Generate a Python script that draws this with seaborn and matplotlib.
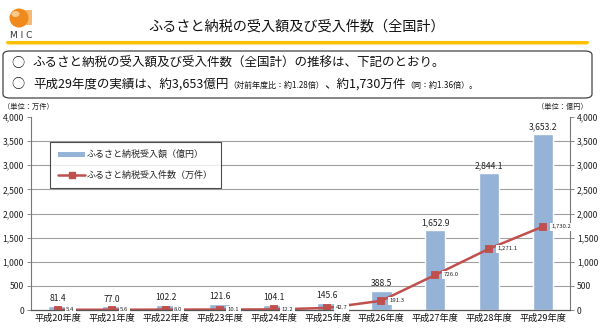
import matplotlib
matplotlib.use("Agg")
import matplotlib.pyplot as plt
from matplotlib.patches import FancyBboxPatch, Ellipse, Rectangle, Patch
from matplotlib.lines import Line2D
import seaborn as sns
import pandas as pd

categories = ["平成20年度", "平成21年度", "平成22年度", "平成23年度", "平成24年度",
              "平成25年度", "平成26年度", "平成27年度", "平成28年度", "平成29年度"]
amount_oku = [81.4, 77.0, 102.2, 121.6, 104.1, 145.6, 388.5, 1652.9, 2844.1, 3653.2]
count_man = [5.4, 5.6, 8.0, 10.1, 12.2, 42.7, 191.3, 726.0, 1271.1, 1730.2]
yticks = [0, 500, 1000, 1500, 2000, 2500, 3000, 3500, 4000]

sns.set_theme(style="white")
plt.rcParams['font.family'] = ['Noto Sans CJK JP', 'DejaVu Sans']

BAR = "#95B3D7"
LINE = "#C0504D"
W, H = 600, 329
fig = plt.figure(figsize=(6, 3.29), dpi=100)

def fx(x): return x / W
def fy(y): return 1 - y / H

df = pd.DataFrame({"cat": categories, "amount": amount_oku, "count": count_man})

ax = fig.add_axes([fx(31), fy(310), fx(570) - fx(31), fy(117) - fy(310)])
ax2 = ax.twinx()

# bars on right axis (億円)
sns.barplot(data=df, x="cat", y="amount", color=BAR, saturation=1, width=0.38, ax=ax2)
# line on left axis (万件)
sns.pointplot(data=df, x="cat", y="count", color=LINE, markers="s", linestyles="-",
              markersize=5, linewidth=1.8, ax=ax)

ax.set_zorder(ax2.get_zorder() + 1)
ax.patch.set_visible(False)

for a in (ax, ax2):
    a.set_ylim(0, 4000)
    a.set_yticks(yticks)
    a.set_yticklabels([f"{v:,}" for v in yticks], fontsize=6.2, color="#222222")
    a.set_xlim(-0.5, len(categories) - 0.5)
    a.set_xlabel("")
    a.set_ylabel("")
    for s in a.spines.values():
        s.set_visible(False)
    a.tick_params(axis="y", length=3, width=0.6, color="#777777", pad=2)

ax.spines["left"].set_visible(True)
ax.spines["left"].set_color("#777777")
ax.spines["left"].set_linewidth(0.8)
ax.spines["bottom"].set_visible(True)
ax.spines["bottom"].set_color("#555555")
ax.spines["bottom"].set_linewidth(0.9)
ax2.spines["right"].set_visible(True)
ax2.spines["right"].set_color("#777777")
ax2.spines["right"].set_linewidth(0.8)

ax2.yaxis.grid(True, color="#A0A0A0", linewidth=0.8)
gl = ax2.get_ygridlines()
gl[-1].set_visible(False)
gl[0].set_visible(False)
ax2.set_axisbelow(True)

ax.set_xticks(range(len(categories)))
ax.set_xticklabels(categories, fontsize=6.6, color="#111111")
ax.tick_params(axis="x", length=0, pad=3, labelbottom=True)
ax2.tick_params(axis="x", length=0, labelbottom=False, labeltop=False)

# bar labels
for i, v in enumerate(amount_oku):
    ax2.annotate(f"{v:,.1f}", (i, v), xytext=(0, 2), textcoords="offset points",
                 ha="center", va="bottom", fontsize=6.2, color="#222222")
# line labels
for i, v in enumerate(count_man):
    ax.annotate(f"{v:,.1f}", (i, v), xytext=(6, 0), textcoords="offset points",
                ha="left", va="center", fontsize=4.3, color="#222222",
                bbox=dict(boxstyle="square,pad=0.25", fc="white", ec="none"))

# legend
handles = [Patch(facecolor=BAR, edgecolor="none", label="ふるさと納税受入額（億円）"),
           Line2D([0], [0], color=LINE, marker="s", markersize=4, linewidth=1.8,
                  label="ふるさと納税受入件数（万件）")]
leg = fig.legend(handles=handles, loc="upper left",
                 bbox_to_anchor=(fx(50), fy(142)), fontsize=6.5, frameon=True,
                 fancybox=False, edgecolor="#222222", handlelength=3.0,
                 handleheight=0.5, labelspacing=1.3, borderpad=0.9,
                 borderaxespad=0, handletextpad=0.2)
leg.get_frame().set_linewidth(0.8)

# unit labels
fig.text(fx(3), fy(107), "（単位：万件）", fontsize=5.2, ha="left", va="center", color="#222222")
fig.text(fx(588), fy(107), "（単位：億円）", fontsize=5.2, ha="right", va="center", color="#222222")

# header: logo
fig.patches.append(Rectangle((fx(20), fy(25)), fx(12), fy(10) - fy(25), transform=fig.transFigure,
                             fc="#F9B870", ec="none"))
fig.patches.append(Ellipse((fx(19), fy(18)), fx(19), fy(0) - fy(19),
                           transform=fig.transFigure, fc="#F08A1C", ec="none"))
fig.patches.append(Ellipse((fx(15.5), fy(14)), fx(8), fy(0) - fy(6),
                           transform=fig.transFigure, fc="#FBC98C", ec="none"))
fig.text(fx(21), fy(35), "M I C", fontsize=6.5, ha="center", va="center", color="#333333",
         family="DejaVu Sans")

fig.text(fx(297), fy(27), "ふるさと納税の受入額及び受入件数（全国計）", fontsize=10.2,
         ha="center", va="center", color="#111111")
fig.add_artist(Line2D([fx(7), fx(587)], [fy(41.5), fy(41.5)], color="#FFC000", linewidth=2.2,
                      transform=fig.transFigure))
fig.add_artist(Line2D([fx(7), fx(587)], [fy(44), fy(44)], color="#FFE080", linewidth=0.8,
                      transform=fig.transFigure))

box = FancyBboxPatch((fx(3), fy(98)), fx(589), fy(51) - fy(98),
                     boxstyle="round,pad=0,rounding_size=0.012", transform=fig.transFigure,
                     fc="white", ec="#444444", lw=0.9)
fig.patches.append(box)

fig.canvas.draw()
renderer = fig.canvas.get_renderer()

def run_text(x, y, pieces):
    for txt, size in pieces:
        t = fig.text(fx(x), fy(y), txt, fontsize=size, ha="left", va="baseline", color="#111111")
        bb = t.get_window_extent(renderer=renderer)
        x += bb.width

fig.text(fx(11), fy(67), "○", fontsize=9.5, ha="left", va="baseline", color="#111111")
fig.text(fx(11), fy(88), "○", fontsize=9.5, ha="left", va="baseline", color="#111111")
run_text(33, 67, [("ふるさと納税の受入額及び受入件数（全国計）の推移は、下記のとおり。", 9.0)])
run_text(33, 88, [("平成29年度の実績は、約3,653億円", 9.0), ("（対前年度比：約1.28倍）", 5.8),
                  ("、約1,730万件", 9.0), ("（同：約1.36倍）。", 5.8)])

fig.savefig("out.png", dpi=100)
